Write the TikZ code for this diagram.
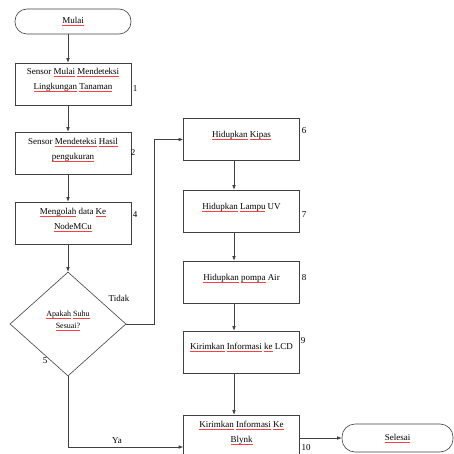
\documentclass[tikz,border=0pt]{standalone}
\usepackage{fontspec}
\setmainfont{Liberation Serif}
\usetikzlibrary{shapes.geometric,arrows.meta}
\newsavebox{\wvbox}
\newcommand{\wv}[1]{\sbox{\wvbox}{#1}\rlap{\textcolor{red!75}{\rule[-2.2pt]{\wd\wvbox}{0.4pt}}}\usebox{\wvbox}}
\tikzset{
  garis/.style={line width=0.6pt, draw=black!75},
  panah/.style={garis, -{Latex[length=4.5pt,width=3.6pt]}},
  kotak/.style={garis, rectangle, minimum width=116pt, minimum height=42pt, inner sep=0pt},
  terminal/.style={garis, rectangle, rounded corners=12pt, inner sep=0pt, font=\fontsize{9}{11}\selectfont},
  putusan/.style={garis, diamond, minimum width=116pt, minimum height=104pt, inner sep=0pt},
  teks/.style={align=center, inner sep=0pt, font=\fontsize{9}{15}\selectfont},
  teksk/.style={align=center, inner sep=0pt, font=\fontsize{8}{12}\selectfont},
  nomor/.style={inner sep=0pt, font=\fontsize{9}{11}\selectfont}
}
\begin{document}
\begin{tikzpicture}[x=1pt,y=-1pt]
		%%%%% START %%%%%
		\useasboundingbox (0,0) rectangle (454,454);
		\coordinate (kiri) at (68,0);
		\coordinate (kanan) at (234,0);
		
		\node[terminal, minimum width=116pt, minimum height=25pt] (mulai) at (73,21.5) {\wv{Mulai}};
		
		\node[kotak] (k1) at (73,84) {};
		\node[teks] (t1) at ([yshift=4pt]k1.center) {Sensor \wv{Mulai} \wv{Mendeteksi}\\\wv{Lingkungan} \wv{Tanaman}};
		\node[kotak] (k2) at (73,153) {};
		\node[teks] (t2) at ([yshift=3pt]k2.center) {Sensor \wv{Mendeteksi} \wv{Hasil}\\\wv{pengukuran}};
		\node[kotak] (k3) at (73,223) {};
		\node[teks] (t3) at ([yshift=3pt]k3.center) {\wv{Mengolah} data \wv{Ke}\\\wv{NodeMCu}};
		
		\node[putusan] (cek) at (68,324) {};
		\node[teksk] (tc) at ([yshift=3pt]cek.center) {\wv{Apakah} \wv{Suhu}\\\wv{Sesuai?}};
		
		\node[kotak] (k6) at (241.5,139.5) {};
		\node[teks] (t6) at ([yshift=4pt]k6.center) {\wv{Hidupkan} \wv{Kipas}};
		\node[kotak] (k7) at (241.5,211) {};
		\node[teks] (t7) at ([yshift=4pt]k7.center) {\wv{Hidupkan} \wv{Lampu} UV};
		\node[kotak] (k8) at (241.5,282) {};
		\node[teks] (t8) at ([yshift=4pt]k8.center) {\wv{Hidupkan} \wv{pompa} Air};
		\node[kotak] (k9) at (241.5,352) {};
		\node[teks] (t9) at ([yshift=5pt]k9.center) {\wv{Kirimkan} \wv{Informasi} \wv{ke} LCD};
		\node[kotak] (k10) at (241.5,436) {};
		\node[teks] (t10) at ([yshift=3pt]k10.center) {\wv{Kirimkan} \wv{Informasi} \wv{Ke}\\\wv{Blynk}};
		
		\node[terminal, minimum width=111pt, minimum height=28pt, rounded corners=13pt] (selesai) at (397.5,438) {\wv{Selesai}};
		
		\node[nomor] (n1) at (135,89) {1};
		\node[nomor] (n2) at (133,153) {2};
		\node[nomor] (n4) at (135,215) {4};
		\node[nomor] (n5) at (45,361) {5};
		\node[nomor] (n6) at (304,131) {6};
		\node[nomor] (n7) at (304,215) {7};
		\node[nomor] (n8) at (304,278) {8};
		\node[nomor] (n9) at (303,341) {9};
		\node[nomor] (n10) at (306,448) {10};
		\node[nomor] (tidak) at (119,298) {Tidak};
		\node[nomor] (ya) at (117,441) {Ya};
		
		\draw[panah] (mulai.south -| kiri) -- (k1.north -| kiri);
		\draw[panah] (k1.south -| kiri) -- (k2.north -| kiri);
		\draw[panah] (k2.south -| kiri) -- (k3.north -| kiri);
		\draw[panah] (k3.south -| kiri) -- (cek.north);
		
		\draw[panah] (cek.east) -- ++(28,0) |- (k6.west);
		\draw[panah] (k6.south -| kanan) -- (k7.north -| kanan);
		\draw[panah] (k7.south -| kanan) -- (k8.north -| kanan);
		\draw[panah] (k8.south -| kanan) -- (k9.north -| kanan);
		\draw[panah] (k9.south -| kanan) -- (k10.north -| kanan);
		
		\coordinate (belok) at (68,447);
		\draw[panah] (cek.south) -- (belok) -- (belok -| k10.west);
		\draw[panah] (k10.east |- selesai.west) -- (selesai.west);
		%%%%% END %%%%%
\end{tikzpicture}
\end{document}
